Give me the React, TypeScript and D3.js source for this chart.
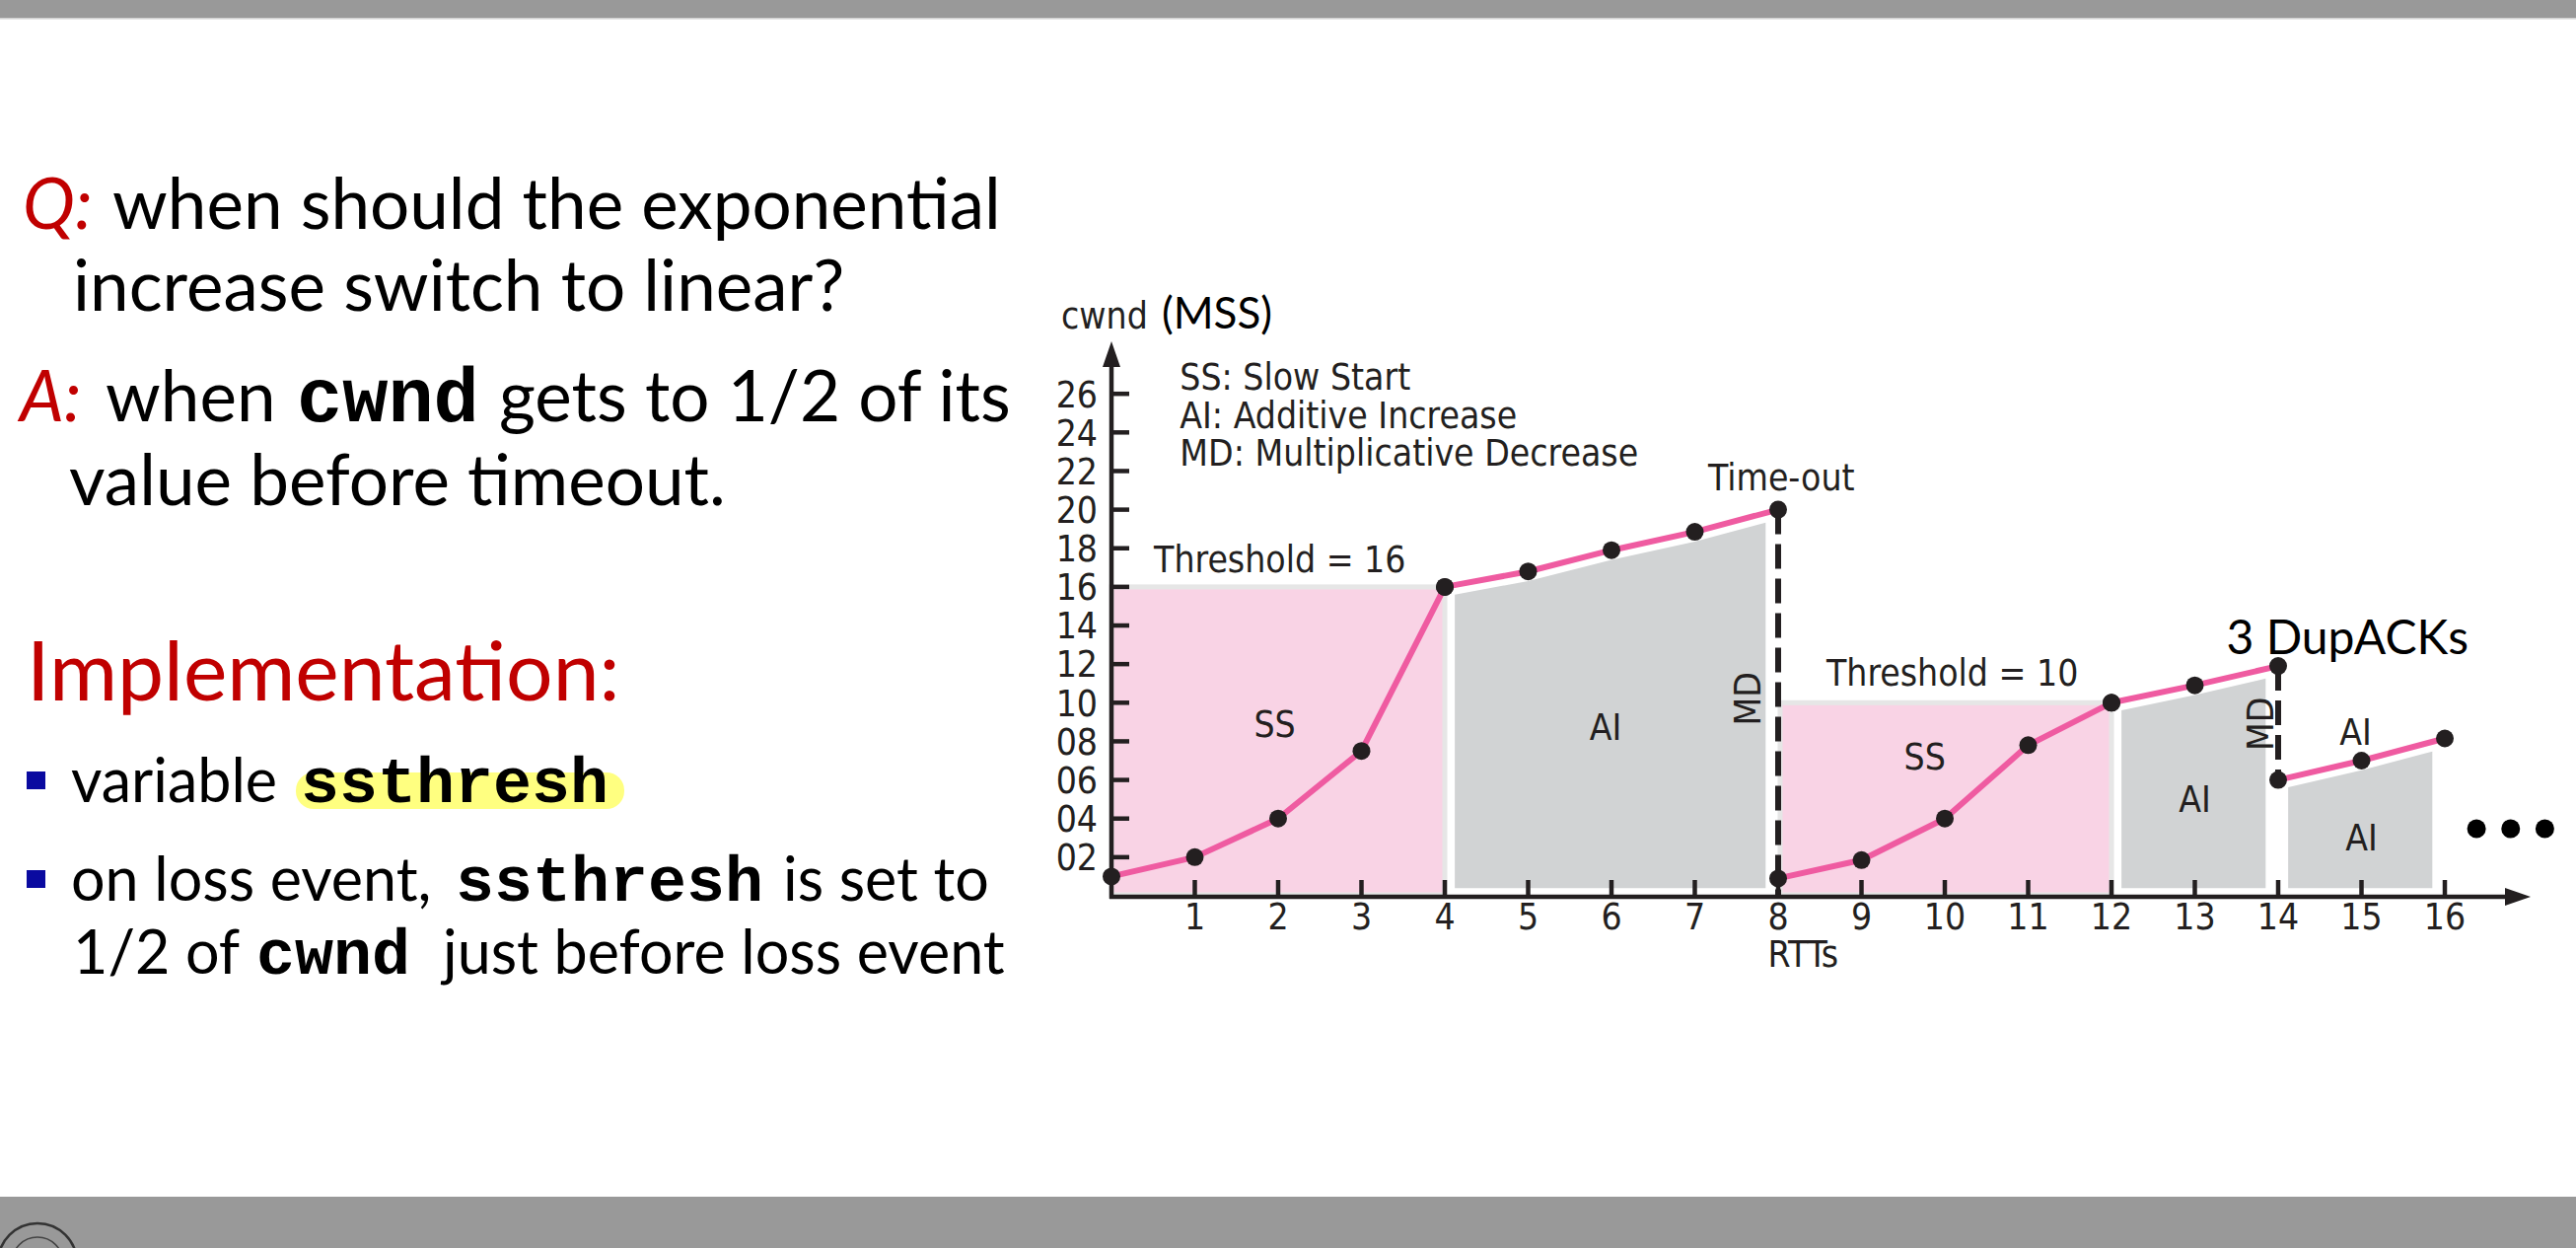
import React from 'react';
import * as d3 from 'd3';

const W = 2612;
const H = 1265;

// cwnd (MSS) per RTT, one array pair per phase
const ss1Rtt = [0, 1, 2, 3, 4];
const ss1Cwnd = [1, 2, 4, 7.5, 16];
const ai1Rtt = [4, 5, 6, 7, 8];
const ai1Cwnd = [16, 16.8, 17.9, 18.85, 20];
const ss2Rtt = [8, 9, 10, 11, 12];
const ss2Cwnd = [0.9, 1.85, 4, 7.8, 10];
const ai2Rtt = [12, 13, 14];
const ai2Cwnd = [10, 10.9, 11.9];
const ai3Rtt = [14, 15, 16];
const ai3Cwnd = [6, 7, 8.15];

const thresholdValues = [16, 10];
const thresholdStart = [0, 8];
const thresholdEnd = [4, 12];

const yTicks = [2, 4, 6, 8, 10, 12, 14, 16, 18, 20, 22, 24, 26];
const yTickLabels = ['02', '04', '06', '08', '10', '12', '14', '16', '18', '20', '22', '24', '26'];
const xTicks = [1, 2, 3, 4, 5, 6, 7, 8, 9, 10, 11, 12, 13, 14, 15, 16];

const legendLines = ['SS: Slow Start', 'AI: Additive Increase', 'MD: Multiplicative Decrease'];

const PINK = '#ef5ba1';
const PINK_FILL = '#f9d3e5';
const GRAY_FILL = '#d1d3d4';
const INK = '#231f20';
const RED = '#c00000';

const chartFont = "'DejaVu Sans Condensed', 'DejaVu Sans', sans-serif";
const slideFont = "Lato, 'Open Sans', sans-serif";
const monoFont = "'Liberation Mono', 'Courier New', monospace";

const x = d3.scaleLinear().domain([0, 16]).range([1127, 2479]);
const y = d3.scaleLinear().domain([0, 26]).range([908, 908 - 26 * 19.57]);

const zip = (xs: number[], ys: number[]) => xs.map((v, i) => [v, ys[i]] as [number, number]);

const interp = (xs: number[], ys: number[], t: number) => {
  for (let i = 0; i < xs.length - 1; i++) {
    if (t >= xs[i] && t <= xs[i + 1]) {
      const f = (t - xs[i]) / (xs[i + 1] - xs[i]);
      return ys[i] + f * (ys[i + 1] - ys[i]);
    }
  }
  return ys[ys.length - 1];
};

// gray AI band sits just under the line, inset a little from the phase edges
const aiBand = (xs: number[], ys: number[]) => {
  const a = xs[0] + 0.12;
  const b = xs[xs.length - 1] - 0.15;
  const pts: [number, number][] = [[a, interp(xs, ys, a) - 0.5]];
  xs.slice(1, -1).forEach((v, i) => pts.push([v, ys[i + 1] - 0.5]));
  pts.push([b, interp(xs, ys, b) - 0.5]);
  return pts;
};

const line = d3.line<[number, number]>().x(d => x(d[0])).y(d => y(d[1]));
const area = d3
  .area<[number, number]>()
  .x(d => x(d[0]))
  .y0(y(0.4))
  .y1(d => y(d[1]));

const phases = [
  zip(ss1Rtt, ss1Cwnd),
  zip(ai1Rtt, ai1Cwnd),
  zip(ss2Rtt, ss2Cwnd),
  zip(ai2Rtt, ai2Cwnd),
  zip(ai3Rtt, ai3Cwnd),
];
const aiPhases = [
  [ai1Rtt, ai1Cwnd],
  [ai2Rtt, ai2Cwnd],
  [ai3Rtt, ai3Cwnd],
];

const Slide = () => (
  <g>
    <text fontFamily={slideFont} fontSize={71} fill="#000">
      <tspan x={23} y={232} fill={RED} fontStyle="italic">Q:</tspan>
      <tspan x={114} y={232}>when should the exponential</tspan>
      <tspan x={74} y={315}>increase switch to linear?</tspan>
      <tspan x={20} y={427} fill={RED} fontStyle="italic">A:</tspan>
      <tspan x={107} y={427}>when</tspan>
      <tspan x={301} y={427} fontFamily={monoFont} fontWeight="bold" fontSize={77}>cwnd</tspan>
      <tspan x={506} y={427}>gets to 1/2 of its</tspan>
      <tspan x={70} y={512}>value before timeout.</tspan>
    </text>
    <text x={27} y={710} fontFamily={slideFont} fontSize={84} fill={RED}>Implementation:</text>
    <rect x={27} y={782} width={19} height={18} fill="#0a0aa0" />
    <rect x={27} y={882} width={19} height={18} fill="#0a0aa0" />
    <rect x={300} y={783} width={333} height={37} rx={18} fill="#ffff80" />
    <text fontFamily={slideFont} fontSize={61} fill="#000">
      <tspan x={72} y={813}>variable</tspan>
      <tspan x={305} y={813} fontFamily={monoFont} fontWeight="bold" fontSize={65}>ssthresh</tspan>
      <tspan x={72} y={913}>on loss event,</tspan>
      <tspan x={462} y={913} fontFamily={monoFont} fontWeight="bold" fontSize={65}>ssthresh</tspan>
      <tspan x={794} y={913}>is set to</tspan>
      <tspan x={74} y={987}>1/2 of</tspan>
      <tspan x={260} y={987} fontFamily={monoFont} fontWeight="bold" fontSize={65}>cwnd</tspan>
      <tspan x={449} y={987}>just before loss event</tspan>
    </text>
  </g>
);

const Chart = () => {
  const x0 = x(0);
  const yBase = y(0) + 1;
  return (
    <g>
      {thresholdValues.map((t, i) => (
        <rect
          key={i}
          x={x(thresholdStart[i]) + (i ? 2 : 0)}
          y={y(t)}
          width={x(thresholdEnd[i]) - x(thresholdStart[i]) - (i ? 2 : 0)}
          height={yBase - y(t) - 2}
          fill={PINK_FILL}
          stroke="#e6e6e6"
          strokeWidth={5}
        />
      ))}
      {aiPhases.map(([xs, ys], i) => (
        <path key={i} d={area(aiBand(xs, ys)) || ''} fill={GRAY_FILL} />
      ))}

      {/* axes */}
      <line x1={x0} x2={x0} y1={yBase + 2} y2={360} stroke={INK} strokeWidth={4.5} />
      <polygon points={`${x0},346 ${x0 - 9},372 ${x0 + 9},372`} fill={INK} />
      <line x1={x0 - 2} x2={2550} y1={yBase} y2={yBase} stroke={INK} strokeWidth={4.5} />
      <polygon points={`2566,${yBase} 2540,${yBase - 9} 2540,${yBase + 9}`} fill={INK} />
      {yTicks.map((t, i) => (
        <g key={t}>
          <line x1={x0} x2={x0 + 18} y1={y(t)} y2={y(t)} stroke={INK} strokeWidth={4.5} />
          <text
            x={x0 - 14}
            y={y(t)}
            dy="0.36em"
            textAnchor="end"
            fontFamily={chartFont}
            fontStretch="condensed"
            fontSize={37}
            fill={INK}>
            {yTickLabels[i]}
          </text>
        </g>
      ))}
      {xTicks.map(t => (
        <g key={t}>
          <line x1={x(t)} x2={x(t)} y1={yBase} y2={yBase - 17} stroke={INK} strokeWidth={4.5} />
          <text
            x={x(t)}
            y={942}
            textAnchor="middle"
            fontFamily={chartFont}
            fontStretch="condensed"
            fontSize={37}
            fill={INK}>
            {t}
          </text>
        </g>
      ))}
      <text x={x(8.3)} y={980} textAnchor="middle" fontFamily={chartFont} fontStretch="condensed" fontSize={37} fill={INK}>
        RTTs
      </text>
      <text y={333} fill={INK}>
        <tspan x={1076} fontFamily={chartFont} fontStretch="condensed" fontSize={37}>cwnd</tspan>
        <tspan x={1178} fontFamily={slideFont} fontSize={44} fill="#000">(MSS)</tspan>
      </text>

      {/* loss events */}
      <line x1={x(8)} x2={x(8)} y1={y(20)} y2={yBase} stroke={INK} strokeWidth={6} strokeDasharray="25 10" />
      <line x1={x(14)} x2={x(14)} y1={y(11.9)} y2={y(6)} stroke={INK} strokeWidth={6} strokeDasharray="25 10" />

      {phases.map((p, i) => (
        <path key={i} d={line(p) || ''} fill="none" stroke={PINK} strokeWidth={6} strokeLinejoin="round" />
      ))}
      {phases.map((p, i) =>
        p.map((d, j) => <circle key={`${i}-${j}`} cx={x(d[0])} cy={y(d[1])} r={9} fill={INK} />)
      )}

      {/* annotations */}
      <g fontFamily={chartFont} fontStretch="condensed" fontSize={37} fill={INK}>
        {legendLines.map((s, i) => (
          <text key={s} x={x(0.82)} y={395 + i * 38.5}>
            {s}
          </text>
        ))}
        <text x={x(0.51)} y={y(16.76)}>Threshold = 16</text>
        <text x={x(8.58)} y={y(10.88)}>Threshold = 10</text>
        <text x={x(7.16)} y={y(21)}>Time-out</text>
        <text x={x(1.96)} y={y(8.24)} textAnchor="middle">SS</text>
        <text x={x(9.76)} y={y(6.54)} textAnchor="middle">SS</text>
        <text x={x(5.93)} y={y(8.07)} textAnchor="middle">AI</text>
        <text x={x(13)} y={y(4.34)} textAnchor="middle">AI</text>
        <text x={x(15)} y={y(2.37)} textAnchor="middle">AI</text>
        <text x={x(14.93)} y={y(7.82)} textAnchor="middle">AI</text>
        <text transform={`translate(${x(7.79)},${y(10.2)}) rotate(-90)`} textAnchor="middle">MD</text>
        <text transform={`translate(${x(13.94)},${y(8.9)}) rotate(-90)`} textAnchor="middle">MD</text>
      </g>
      <text x={x(13.38)} y={663} fontFamily={slideFont} fontSize={48} fill="#000">
        3 DupACKs
      </text>
      {[16.38, 16.79, 17.2].map(v => (
        <circle key={v} cx={x(v)} cy={y(3.47)} r={9.5} fill="#000" />
      ))}
    </g>
  );
};

export default function App() {
  return (
    <svg
      width={W}
      height={H}
      style={{ position: 'absolute', left: 0, top: 0, background: '#fff' }}>
      <rect x={0} y={0} width={W} height={18} fill="#999" />
      <rect x={0} y={18} width={W} height={1.5} fill="#d0d0d0" />
      <rect x={0} y={1213} width={W} height={H - 1213} fill="#999" />
      <circle cx={38} cy={1280} r={40} fill="none" stroke="#333" strokeWidth={2.5} />
      <circle cx={38} cy={1280} r={26} fill="none" stroke="#444" strokeWidth={1.5} />
      <Slide />
      <Chart />
    </svg>
  );
}
